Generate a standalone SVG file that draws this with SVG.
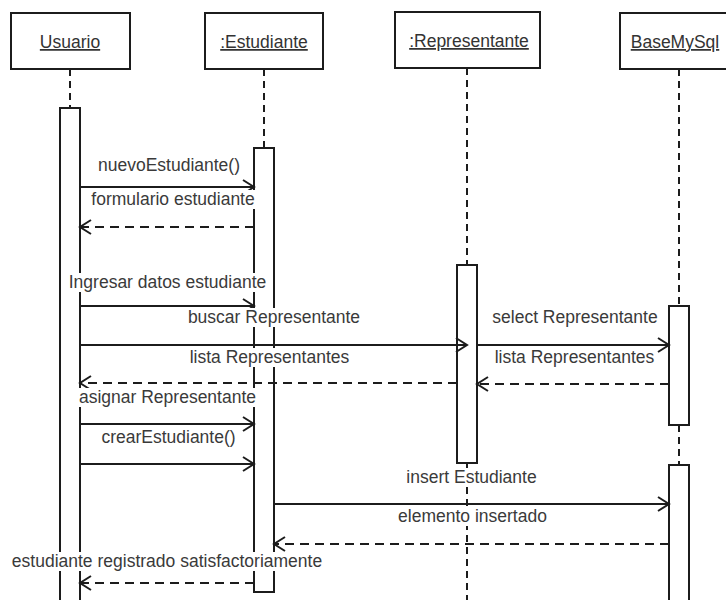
<svg xmlns="http://www.w3.org/2000/svg" width="726" height="600" viewBox="0 0 726 600">
  <style>
    .box { fill: #ffffff; stroke: #1c1c1c; stroke-width: 2; }
    .act { fill: #ffffff; stroke: #1c1c1c; stroke-width: 2; }
    .life { stroke: #1c1c1c; stroke-width: 2; stroke-dasharray: 7 5; fill: none; }
    .msg { stroke: #1c1c1c; stroke-width: 2; fill: none; }
    .ret { stroke: #1c1c1c; stroke-width: 2; stroke-dasharray: 9 6; fill: none; }
    .head { stroke: #1c1c1c; stroke-width: 2; fill: none; }
    .lbl { font-family: "Liberation Sans", Arial, sans-serif; font-size: 17.5px; fill: #3a3a3a; text-anchor: middle; }
    .name { font-family: "Liberation Sans", Arial, sans-serif; font-size: 17.5px; fill: #333333; text-anchor: middle; text-decoration: underline; }
    .bg { fill: #ffffff; }
  </style>
  <defs>
    <path id="headR" d="M -11 -7 L 0 0 L -11 7"/>
    <path id="headL" d="M 11 -7 L 0 0 L 11 7"/>
  </defs>
  <rect width="726" height="600" fill="#ffffff"/>

  <!-- lifelines -->
  <g id="lifelines">
    <line class="life" x1="70" y1="69" x2="70" y2="108"/>
    <line class="life" x1="264" y1="69" x2="264" y2="148"/>
    <line class="life" x1="467" y1="68" x2="467" y2="265"/>
    <line class="life" x1="467" y1="463" x2="467" y2="600"/>
    <line class="life" x1="679" y1="69" x2="679" y2="306"/>
    <line class="life" x1="679" y1="425" x2="679" y2="465"/>
  </g>

  <!-- participants -->
  <g id="usuario">
    <rect class="box" x="11" y="13" width="119" height="56"/>
    <text class="name" x="70" y="48">Usuario</text>
    <rect class="act" x="60" y="108" width="20" height="500"/>
  </g>
  <g id="estudiante">
    <rect class="box" x="205" y="13" width="118" height="56"/>
    <text class="name" x="264" y="48">:Estudiante</text>
    <rect class="act" x="254" y="148" width="20" height="444"/>
  </g>
  <g id="representante">
    <rect class="box" x="395" y="12" width="145" height="56"/>
    <text class="name" x="469" y="47">:Representante</text>
    <rect class="act" x="457" y="265" width="20" height="198"/>
  </g>
  <g id="basemysql">
    <rect class="box" x="620" y="13" width="120" height="56"/>
    <text class="name" x="675" y="48">BaseMySql</text>
    <rect class="act" x="669" y="306" width="20" height="119"/>
    <rect class="act" x="669" y="465" width="20" height="145"/>
  </g>

  <!-- messages -->
  <g id="connectors">
    <line class="msg" x1="80" y1="187" x2="254" y2="187"/>
    <use href="#headR" class="head" x="254" y="187"/>

    <line class="ret" x1="254" y1="227" x2="80" y2="227"/>
    <use href="#headL" class="head" x="80" y="227"/>

    <line class="msg" x1="80" y1="306" x2="254" y2="306"/>
    <use href="#headR" class="head" x="254" y="306"/>

    <line class="msg" x1="80" y1="345" x2="467" y2="345"/>
    <use href="#headR" class="head" x="467" y="345"/>

    <line class="msg" x1="477" y1="345" x2="669" y2="345"/>
    <use href="#headR" class="head" x="669" y="345"/>

    <line class="ret" x1="457" y1="383" x2="80" y2="383"/>
    <use href="#headL" class="head" x="80" y="383"/>

    <line class="ret" x1="669" y1="384" x2="477" y2="384"/>
    <use href="#headL" class="head" x="477" y="384"/>

    <line class="msg" x1="80" y1="424" x2="254" y2="424"/>
    <use href="#headR" class="head" x="254" y="424"/>

    <line class="msg" x1="80" y1="464" x2="254" y2="464"/>
    <use href="#headR" class="head" x="254" y="464"/>

    <line class="msg" x1="274" y1="504" x2="669" y2="504"/>
    <use href="#headR" class="head" x="669" y="504"/>

    <line class="ret" x1="669" y1="544" x2="274" y2="544"/>
    <use href="#headL" class="head" x="274" y="544"/>

    <line class="ret" x1="254" y1="583" x2="80" y2="583"/>
    <use href="#headL" class="head" x="80" y="583"/>
  </g>

  <!-- message labels -->
  <g id="labels">
    <rect class="bg" x="95" y="156" width="149" height="19"/>
    <text class="lbl" x="169" y="171">nuevoEstudiante()</text>

    <rect class="bg" x="90" y="190" width="166" height="19"/>
    <text class="lbl" x="173" y="205">formulario estudiante</text>

    <rect class="bg" x="67" y="273" width="201" height="19"/>
    <text class="lbl" x="167.5" y="288">Ingresar datos estudiante</text>

    <rect class="bg" x="187" y="308" width="174" height="19"/>
    <text class="lbl" x="274" y="323">buscar Representante</text>

    <rect class="bg" x="490" y="308" width="170" height="19"/>
    <text class="lbl" x="575" y="323">select Representante</text>

    <rect class="bg" x="188" y="348" width="163" height="19"/>
    <text class="lbl" x="269.5" y="363">lista Representantes</text>

    <rect class="bg" x="493" y="348" width="163" height="19"/>
    <text class="lbl" x="574.5" y="363">lista Representantes</text>

    <rect class="bg" x="77" y="388" width="181" height="19"/>
    <text class="lbl" x="167.5" y="403">asignar Representante</text>

    <rect class="bg" x="99" y="428" width="139" height="19"/>
    <text class="lbl" x="168.5" y="443">crearEstudiante()</text>

    <rect class="bg" x="405" y="468" width="133" height="19"/>
    <text class="lbl" x="471.5" y="483">insert Estudiante</text>

    <rect class="bg" x="397" y="507" width="151" height="19"/>
    <text class="lbl" x="472.5" y="522">elemento insertado</text>

    <rect class="bg" x="11" y="552" width="312" height="19"/>
    <text class="lbl" x="167" y="567">estudiante registrado satisfactoriamente</text>
  </g>
</svg>
